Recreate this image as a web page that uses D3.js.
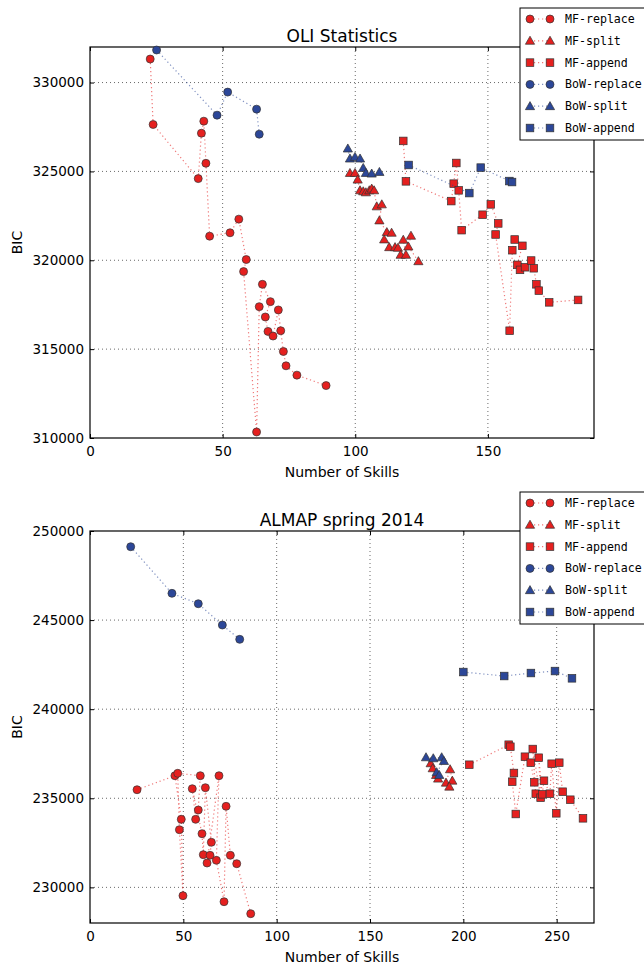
<!DOCTYPE html>
<html>
<head>
<meta charset="utf-8">
<script src="https://cdn.jsdelivr.net/npm/d3@7"></script>
<style>
  body { margin: 0; background: #fff; }
  svg { display: block; font-family: "DejaVu Sans", sans-serif; }
</style>
</head>
<body>
<div id="chart"></div>
<script>
// --- OLI Statistics: [number of skills, BIC]
const oliMfReplace = [[22.7,331323],[23.8,327640],[40.8,324594],[42.0,327149],[42.9,327826],[43.7,325457],[45.1,321356],[52.8,321547],[56.1,322315],[58.9,320041],[57.9,319364],[62.8,310338],[63.8,317390],[65.0,318648],[68.0,317672],[66.1,316809],[67.1,315997],[69.0,315737],[71.0,317204],[71.9,316036],[72.9,314868],[73.9,314062],[78.0,313537],[89.0,312950]];
const oliMfSplit = [[98.0,324910],[99.9,324910],[100.9,324537],[101.8,323934],[103.0,323877],[104.0,323821],[105.3,323934],[106.2,324029],[107.1,323934],[108.1,323031],[110.0,323144],[109.1,322241],[111.9,321581],[113.7,321547],[110.9,321170],[112.8,320735],[115.0,320735],[116.1,320700],[117.1,320306],[119.1,320306],[118.1,321152],[121.0,321378],[120.0,320774],[123.8,319945]];
const oliMfAppend = [[118.1,326715],[119.1,324441],[136.2,323330],[137.1,324311],[138.1,325474],[139.0,323934],[140.1,321694],[148.0,322563],[151.1,323144],[153.9,322072],[152.9,321451],[158.2,316036],[159.2,320566],[160.1,321169],[163.0,320814],[161.1,319742],[162.1,319460],[164.0,319607],[166.3,319985],[167.3,319550],[168.3,318648],[169.2,318292],[173.1,317632],[184.0,317768]];
const oliBowReplace = [[25.1,331831],[47.9,328164],[51.9,329462],[62.8,328503],[63.8,327093]];
const oliBowSplit = [[97.2,326286],[98.0,325722],[99.9,325812],[101.8,325722],[103.0,325192],[104.0,324910],[106.2,324876],[109.1,324966]];
const oliBowAppend = [[120.1,325361],[143.0,323781],[147.3,325214],[158.1,324458],[159.1,324402]];

// --- ALMAP spring 2014
const almapMfReplace = [[25.2,235480],[45.5,236266],[48.9,233819],[49.8,229532],[47.9,233236],[47.0,236401],[59.1,236266],[58.0,234341],[56.6,233819],[54.8,235536],[60.0,233011],[60.7,231833],[61.8,235593],[65.0,232529],[64.3,231799],[62.7,231367],[69.1,236266],[67.7,231519],[71.8,229195],[72.9,234549],[75.2,231799],[78.6,231328],[86.1,228522]];
const almapMfSplit = [[182.5,236962],[183.6,236681],[185.4,236305],[186.5,236100],[190.7,235873],[192.9,236625],[194.1,235986],[192.5,235650]];
const almapMfAppend = [[203.2,236883],[224.3,238006],[225.2,237893],[227.1,236418],[226.2,235929],[228.1,234117],[233.0,237332],[236.1,236996],[238.0,235896],[238.8,235256],[237.2,237764],[241.4,235031],[240.4,237276],[242.3,235222],[243.2,235985],[246.4,235256],[247.3,236939],[249.8,234156],[251.4,236996],[253.2,235368],[257.3,234919],[264.1,233875]];
const almapBowReplace = [[21.8,249117],[43.9,246502],[58.0,245918],[70.9,244723],[80.2,243920]];
const almapBowSplit = [[180.0,237298],[183.9,237242],[188.4,237298],[189.6,237091],[185.7,236457],[187.1,236305]];
const almapBowAppend = [[200.0,242085],[221.9,241861],[236.2,242029],[249.1,242141],[258.2,241732]];

const seriesNames = ['MF-replace', 'MF-split', 'MF-append', 'BoW-replace', 'BoW-split', 'BoW-append'];
const oliXTicks = [0, 50, 100, 150];
const oliYTicks = [310000, 315000, 320000, 325000, 330000];
const almapXTicks = [0, 50, 100, 150, 200, 250];
const almapYTicks = [230000, 235000, 240000, 245000, 250000];

const RED = '#e5201f';
const BLUE = '#2c4798';
const styles = [
  { color: RED, shape: 'circle' },
  { color: RED, shape: 'triangle' },
  { color: RED, shape: 'square' },
  { color: BLUE, shape: 'circle' },
  { color: BLUE, shape: 'triangle' },
  { color: BLUE, shape: 'square' }
];

const svg = d3.select('#chart').append('svg').attr('width', 644).attr('height', 964);

function marker(g, shape, color, cx, cy) {
  if (shape === 'circle') {
    g.append('circle').attr('cx', cx).attr('cy', cy).attr('r', 4)
      .attr('fill', color).attr('stroke', '#333').attr('stroke-width', 0.7);
  } else if (shape === 'square') {
    g.append('rect').attr('x', cx - 3.8).attr('y', cy - 3.8).attr('width', 7.6).attr('height', 7.6)
      .attr('fill', color).attr('stroke', '#333').attr('stroke-width', 0.7);
  } else {
    const s = 4.6;
    g.append('path').attr('d', `M${cx},${cy - s}L${cx + s},${cy + s * 0.75}L${cx - s},${cy + s * 0.75}Z`)
      .attr('fill', color).attr('stroke', '#333').attr('stroke-width', 0.7);
  }
}

function drawPanel(opts) {
  const { left, right, top, bottom, xMax, yMin, yMax, xTicks, yTicks, title, series, legendTop } = opts;
  const x = d3.scaleLinear().domain([0, xMax]).range([left, right]);
  const y = d3.scaleLinear().domain([yMin, yMax]).range([bottom, top]);
  const g = svg.append('g');

  // grid
  g.selectAll('.vgrid').data(xTicks.filter((t) => t > 0)).enter().append('line')
    .attr('x1', (d) => x(d)).attr('x2', (d) => x(d)).attr('y1', top).attr('y2', bottom)
    .attr('stroke', '#444').attr('stroke-width', 0.8).attr('stroke-dasharray', '1,3');
  g.selectAll('.hgrid').data(yTicks.filter((t) => t > yMin && t < yMax)).enter().append('line')
    .attr('x1', left).attr('x2', right).attr('y1', (d) => y(d)).attr('y2', (d) => y(d))
    .attr('stroke', '#444').attr('stroke-width', 0.8).attr('stroke-dasharray', '1,3');

  // axes with inward ticks
  const fmt = (d) => d;
  g.append('g').attr('transform', `translate(0,${bottom})`)
    .call(d3.axisBottom(x).tickValues(xTicks).tickSize(-4).tickPadding(8).tickFormat(fmt))
    .call((a) => a.select('.domain').remove());
  g.append('g').attr('transform', `translate(0,${top})`)
    .call(d3.axisTop(x).tickValues(xTicks).tickSize(-4).tickFormat(''))
    .call((a) => a.select('.domain').remove());
  g.append('g').attr('transform', `translate(${left},0)`)
    .call(d3.axisLeft(y).tickValues(yTicks).tickSize(-4).tickPadding(6).tickFormat(fmt))
    .call((a) => a.select('.domain').remove());
  g.append('g').attr('transform', `translate(${right},0)`)
    .call(d3.axisRight(y).tickValues(yTicks).tickSize(-4).tickFormat(''))
    .call((a) => a.select('.domain').remove());
  g.selectAll('.tick text').attr('font-size', 13.5).attr('fill', '#000')
    .attr('font-family', '"DejaVu Sans", sans-serif');
  g.selectAll('.tick line').attr('stroke', '#000');

  g.append('rect').attr('x', left).attr('y', top).attr('width', right - left).attr('height', bottom - top)
    .attr('fill', 'none').attr('stroke', '#000').attr('stroke-width', 1.2);

  // series
  const line = d3.line().x((d) => x(d[0])).y((d) => y(d[1]));
  series.forEach((data, i) => {
    const st = styles[i];
    g.append('path').datum(data).attr('d', line).attr('fill', 'none')
      .attr('stroke', st.color).attr('stroke-opacity', 0.6).attr('stroke-width', 1.2)
      .attr('stroke-dasharray', '1.2,2.8');
    const mg = g.append('g');
    data.forEach((d) => marker(mg, st.shape, st.color, x(d[0]), y(d[1])));
  });

  // labels
  g.append('text').attr('x', (left + right) / 2).attr('y', top - 5).attr('text-anchor', 'middle')
    .attr('font-size', 17).text(title);
  g.append('text').attr('x', (left + right) / 2).attr('y', bottom + 39).attr('text-anchor', 'middle')
    .attr('font-size', 14).text('Number of Skills');
  g.append('text').attr('transform', `translate(22,${(top + bottom) / 2}) rotate(-90)`)
    .attr('text-anchor', 'middle').attr('font-size', 14).text('BIC');

  // legend
  const lg = g.append('g');
  lg.append('rect').attr('x', 520).attr('y', legendTop).attr('width', 140).attr('height', 132)
    .attr('fill', '#fff').attr('stroke', '#000').attr('stroke-width', 1);
  seriesNames.forEach((name, i) => {
    const st = styles[i];
    const cy = legendTop + 11 + i * 21.8;
    lg.append('line').attr('x1', 530).attr('x2', 550).attr('y1', cy).attr('y2', cy)
      .attr('stroke', st.color).attr('stroke-opacity', 0.6).attr('stroke-width', 1.2)
      .attr('stroke-dasharray', '1.2,2.8');
    marker(lg, st.shape, st.color, 530, cy);
    marker(lg, st.shape, st.color, 550, cy);
    lg.append('text').attr('x', 565).attr('y', cy + 4).attr('font-size', 11.6)
      .attr('font-family', '"DejaVu Sans Mono", monospace').text(name);
  });
}

drawPanel({
  left: 90, right: 594, top: 47, bottom: 438,
  xMax: 190, yMin: 310000, yMax: 332000,
  xTicks: oliXTicks, yTicks: oliYTicks, title: 'OLI Statistics',
  series: [oliMfReplace, oliMfSplit, oliMfAppend, oliBowReplace, oliBowSplit, oliBowAppend],
  legendTop: 8
});
drawPanel({
  left: 90, right: 594, top: 531, bottom: 923,
  xMax: 270, yMin: 228000, yMax: 250000,
  xTicks: almapXTicks, yTicks: almapYTicks, title: 'ALMAP spring 2014',
  series: [almapMfReplace, almapMfSplit, almapMfAppend, almapBowReplace, almapBowSplit, almapBowAppend],
  legendTop: 492
});
</script>
</body>
</html>
